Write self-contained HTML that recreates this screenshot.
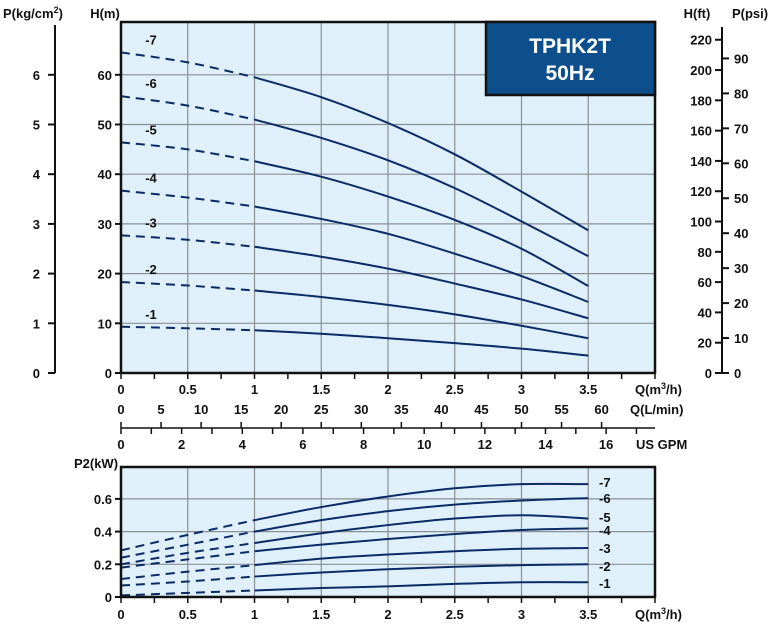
<!DOCTYPE html>
<html><head><meta charset="utf-8"><style>
body{margin:0;background:#fff;}
svg{display:block;font-family:"Liberation Sans",sans-serif;font-weight:bold;}
</style></head><body>
<svg id="c" width="768" height="627" viewBox="0 0 768 627"></svg>
<script>
const qValues=[0,0.5,1,1.5,2,2.5,3,3.5];
const seriesNames=["-7","-6","-5","-4","-3","-2","-1"];
const head7=[64.5,62.5,59.5,55.5,50.3,44,36.5,28.7];
const head6=[55.7,53.8,51,47.3,42.8,37.2,30.5,23.5];
const head5=[46.4,45,42.6,39.5,35.5,30.8,25,17.5];
const head4=[36.7,35.3,33.5,31,28,24,19.5,14.3];
const head3=[27.7,26.8,25.4,23.4,21,18,14.8,11];
const head2=[18.3,17.6,16.6,15.3,13.7,11.8,9.5,7];
const head1=[9.3,9.0,8.6,7.9,7.0,6.0,4.9,3.5];
const power7=[0.285,0.38,0.47,0.55,0.615,0.665,0.69,0.69];
const power6=[0.24,0.32,0.40,0.47,0.525,0.565,0.59,0.605];
const power5=[0.20,0.27,0.33,0.39,0.44,0.48,0.50,0.48];
const power4=[0.18,0.23,0.28,0.32,0.355,0.385,0.41,0.42];
const power3=[0.11,0.155,0.195,0.235,0.26,0.28,0.295,0.30];
const power2=[0.07,0.095,0.125,0.15,0.17,0.185,0.195,0.20];
const power1=[0.01,0.025,0.04,0.055,0.065,0.08,0.09,0.09];
const qTicks=["0","0.5","1","1.5","2","2.5","3","3.5"];
const hTicks=[0,10,20,30,40,50,60];
const pKgTicks=[0,1,2,3,4,5,6];
const ftTicks=[0,20,40,60,80,100,120,140,160,180,200,220];
const psiTicks=[0,10,20,30,40,50,60,70,80,90];
const lminTicks=[0,5,10,15,20,25,30,35,40,45,50,55,60];
const gpmTicks=[0,2,4,6,8,10,12,14,16];
const p2Ticks=[0,0.2,0.4,0.6];
const heads=[head7,head6,head5,head4,head3,head2,head1];
const powers=[power7,power6,power5,power4,power3,power2,power1];

const NS="http://www.w3.org/2000/svg",svg=document.getElementById('c');
const X0=121,XS=133.5,XR=655;
const xq=q=>X0+q*XS;
const HT=22,HB=373,yH=h=>HB-h*4.97;
const PT=467,PB=597,yP=p=>PB-p*163.5;
function el(t,a,p){const e=document.createElementNS(NS,t);for(const k in a)e.setAttribute(k,a[k]);(p||svg).appendChild(e);return e;}
function txt(x,y,s,anchor,size,name,fill){const t=el('text',{x:x,y:y,'text-anchor':anchor||'middle','font-size':size||13,fill:fill||'#111'});t.textContent=s;

return t;}
function curve(pts){let d='M'+pts[0][0]+','+pts[0][1];for(let i=0;i<pts.length-1;i++){const p0=pts[Math.max(0,i-1)],p1=pts[i],p2=pts[i+1],p3=pts[Math.min(pts.length-1,i+2)];
d+=' C'+(p1[0]+(p2[0]-p0[0])/6)+','+(p1[1]+(p2[1]-p0[1])/6)+' '+(p2[0]-(p3[0]-p1[0])/6)+','+(p2[1]-(p3[1]-p1[1])/6)+' '+p2[0]+','+p2[1];}return d;}
function drawSeries(vals,yf,name){const pts=qValues.map((q,i)=>[xq(q),yf(vals[i])]);
const a=el('path',{d:curve(pts.slice(0,3)),fill:'none',stroke:'#0c2a66','stroke-width':2,'stroke-dasharray':'9,6'});


const b=el('path',{d:curve(pts.slice(2)),fill:'none',stroke:'#0c2a66','stroke-width':2});

}

// main plot
let r=el('rect',{x:X0,y:HT,width:XR-X0,height:HB-HT,fill:'#dff0fa'});


for(let i=1;i<=7;i++){const l=el('line',{x1:xq(i*0.5),x2:xq(i*0.5),y1:HT,y2:HB,stroke:'#8a8f94','stroke-width':1.2});}
hTicks.forEach(h=>{if(h>0){const l=el('line',{x1:X0,x2:XR,y1:yH(h),y2:yH(h),stroke:'#8a8f94','stroke-width':1.2});}});
heads.forEach((s,i)=>{drawSeries(s,yH,'head-curve'+seriesNames[i]);txt(xq(0)+30,yH(s[0])-8,seriesNames[i],'middle',13,'head-label'+seriesNames[i]);});
r=el('rect',{x:X0,y:HT,width:XR-X0,height:HB-HT,fill:'none',stroke:'#111','stroke-width':2.5});


// title
r=el('rect',{x:486,y:HT,width:XR-486,height:73,fill:'#0d4f8c',stroke:'#111','stroke-width':2.5});


txt(570,53,'TPHK2T','middle',21,'title-model','#fff');
txt(570,80,'50Hz','middle',21,'title-frequency','#fff');
// H axis ticks
hTicks.forEach(h=>{el('line',{x1:X0-6,x2:X0,y1:yH(h),y2:yH(h),stroke:'#111','stroke-width':2});txt(X0-9,yH(h)+5,String(h),'end',13,'h-tick-label');});
txt(105,18,'H(m)','middle',13,'h-axis-title');
// P kg axis
el('line',{x1:55,x2:55,y1:25,y2:HB,stroke:'#111','stroke-width':2});
pKgTicks.forEach(p=>{el('line',{x1:48,x2:55,y1:yH(p*10),y2:yH(p*10),stroke:'#111','stroke-width':2});txt(40,yH(p*10)+5,String(p),'end',13,'p-kg-tick-label');});
const pt=txt(3,18,'P(kg/cm','start',13,'p-kg-axis-title');const ts=el('tspan',{'font-size':9,dy:-5},pt);ts.textContent='2';const ts2=el('tspan',{dy:5},pt);ts2.textContent=')';
// ft / psi axis
const RA=722;
el('line',{x1:RA,x2:RA,y1:27,y2:HB,stroke:'#111','stroke-width':2});
ftTicks.forEach(f=>{const y=yH(f/3.281);el('line',{x1:RA-7,x2:RA,y1:y,y2:y,stroke:'#111','stroke-width':2});txt(RA-10,y+5,String(f),'end',13,'ft-tick-label');});
psiTicks.forEach(p=>{const y=yH(p/1.422);el('line',{x1:RA,x2:RA+7,y1:y,y2:y,stroke:'#111','stroke-width':2});txt(RA+12,y+5,String(p),'start',13,'psi-tick-label');});
txt(697,18,'H(ft)','middle',13,'ft-axis-title');txt(750,18,'P(psi)','middle',13,'psi-axis-title');
// bottom axes main
for(let i=0;i<=16;i++){el('line',{x1:xq(i*0.25),x2:xq(i*0.25),y1:HB,y2:HB+6,stroke:'#111','stroke-width':1.5});}
qTicks.forEach((t,i)=>txt(xq(qValues[i]),394,t,'middle',13,'q-tick-label'));
let qt=txt(635,394,'Q(m','start',13,'q-axis-title');let s1=el('tspan',{'font-size':9,dy:-5},qt);s1.textContent='3';let s2=el('tspan',{dy:5},qt);s2.textContent='/h)';
lminTicks.forEach(v=>txt(xq(v*0.06),414,String(v),'middle',13,'lmin-tick-label'));
txt(630,414,'Q(L/min)','start',13,'lmin-axis-title');
el('line',{x1:X0,x2:XR,y1:428,y2:428,stroke:'#111','stroke-width':1.5});
lminTicks.forEach(v=>el('line',{x1:xq(v*0.06),x2:xq(v*0.06),y1:422,y2:428,stroke:'#111','stroke-width':1.5}));
for(let g=0;g<=17;g++)el('line',{x1:xq(g*0.22712),x2:xq(g*0.22712),y1:428,y2:434,stroke:'#111','stroke-width':1.5});
gpmTicks.forEach(g=>txt(xq(g*0.22712),449,String(g),'middle',13,'gpm-tick-label'));
txt(636,449,'US GPM','start',13,'gpm-axis-title');
// power plot
r=el('rect',{x:X0,y:PT,width:XR-X0,height:PB-PT,fill:'#dff0fa'});


for(let i=1;i<=7;i++){el('line',{x1:xq(i*0.5),x2:xq(i*0.5),y1:PT,y2:PB,stroke:'#8a8f94','stroke-width':1.2});}
p2Ticks.forEach(p=>{if(p>0)el('line',{x1:X0,x2:XR,y1:yP(p),y2:yP(p),stroke:'#8a8f94','stroke-width':1.2});});
powers.forEach((s,i)=>{drawSeries(s,yP,'power-curve'+seriesNames[i]);});
const plY=[482,498,517,530,548,566,583];
seriesNames.forEach((n,i)=>txt(599,plY[i]+5,n,'start',13,'power-label'+n));
r=el('rect',{x:X0,y:PT,width:XR-X0,height:PB-PT,fill:'none',stroke:'#111','stroke-width':2.5});


p2Ticks.forEach(p=>{el('line',{x1:X0-6,x2:X0,y1:yP(p),y2:yP(p),stroke:'#111','stroke-width':2});txt(X0-9,yP(p)+5,String(p),'end',13,'p2-tick-label');});
txt(96,468,'P2(kW)','middle',13,'p2-axis-title');
for(let i=0;i<=16;i++){el('line',{x1:xq(i*0.25),x2:xq(i*0.25),y1:PB,y2:PB+6,stroke:'#111','stroke-width':1.5});}
qTicks.forEach((t,i)=>txt(xq(qValues[i]),619,t,'middle',13,'p2-q-tick-label'));
qt=txt(635,619,'Q(m','start',13,'p2-q-axis-title');s1=el('tspan',{'font-size':9,dy:-5},qt);s1.textContent='3';s2=el('tspan',{dy:5},qt);s2.textContent='/h)';
</script>
</body></html>
